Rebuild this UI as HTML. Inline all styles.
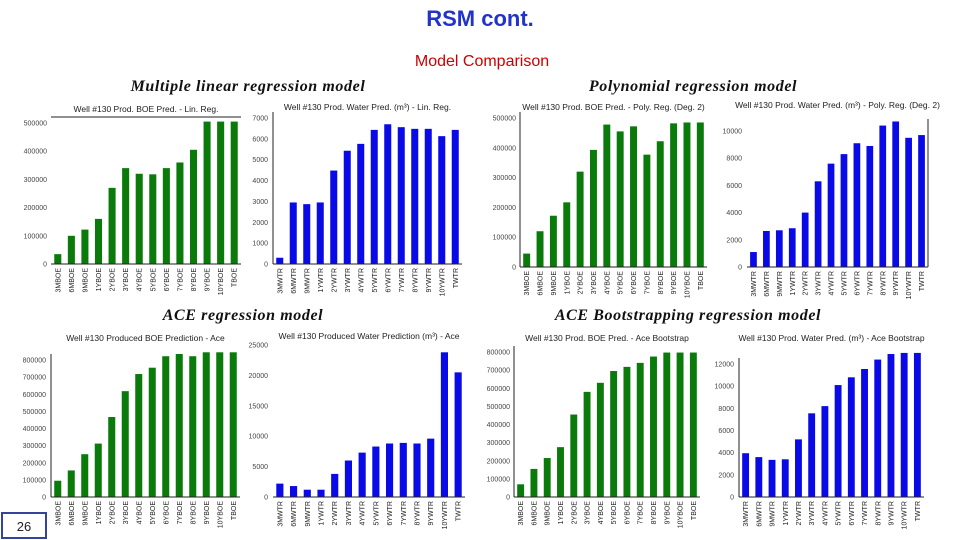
<!DOCTYPE html>
<html><head><meta charset="utf-8"><style>
body{margin:0;background:#fff;}
#root{position:relative;width:960px;height:540px;overflow:hidden;font-family:"Liberation Sans",sans-serif;}
</style></head><body>
<div id="root">
<svg width="960" height="540" id="svg">
<text x="480" y="26" text-anchor="middle" font-size="22" font-weight="bold" fill="#2233cc" font-family="Liberation Sans, sans-serif">RSM cont.</text>
<text x="482" y="66" text-anchor="middle" font-size="16" fill="#cc0000" font-family="Liberation Sans, sans-serif">Model Comparison</text>
<g font-family="Liberation Serif, serif" font-weight="bold" font-style="italic" font-size="16" letter-spacing="0.6" fill="#111" text-anchor="middle">
<text x="248" y="91">Multiple linear regression model</text>
<text x="693" y="91">Polynomial regression model</text>
<text x="243" y="320">ACE regression model</text>
<text x="688" y="320">ACE Bootstrapping regression model</text>
</g>
<rect x="2" y="513" width="44" height="25" fill="#fff" stroke="#33449a" stroke-width="2"/>
<text x="24" y="531" text-anchor="middle" font-size="13" fill="#222">26</text>
</svg>
</div>
<script>
const boeCats=["3MBOE","6MBOE","9MBOE","1YBOE","2YBOE","3YBOE","4YBOE","5YBOE","6YBOE","7YBOE","8YBOE","9YBOE","10YBOE","TBOE"];
const wtrCats=["3MWTR","6MWTR","9MWTR","1YWTR","2YWTR","3YWTR","4YWTR","5YWTR","6YWTR","7YWTR","8YWTR","9YWTR","10YWTR","TWTR"];
const linBoeVals=[35000,100000,122000,160000,270000,340000,320000,318000,340000,360000,405000,505000,505000,505000];
const linWtrVals=[300,2950,2870,2950,4480,5430,5760,6430,6700,6560,6480,6480,6130,6430];
const polyBoeVals=[45000,120000,172000,217000,320000,393000,478000,455000,472000,377000,422000,482000,485000,485000];
const polyWtrVals=[1100,2650,2700,2850,4000,6300,7600,8300,9100,8900,10400,10700,9500,9700];
const aceBoeVals=[95000,155000,250000,312000,467000,618000,718000,755000,822000,835000,822000,845000,845000,845000];
const aceWtrVals=[2200,1800,1200,1200,3800,6000,7300,8300,8800,8900,8800,9600,23800,20500];
const bootBoeVals=[70000,155000,215000,275000,455000,580000,630000,695000,718000,740000,775000,797000,797000,797000];
const bootWtrVals=[3950,3600,3350,3400,5200,7550,8200,10100,10800,11550,12400,12900,13000,13000];
const ticks500k=[0,100000,200000,300000,400000,500000];
const ticks7k=[0,1000,2000,3000,4000,5000,6000,7000];
const ticks10k=[0,2000,4000,6000,8000,10000];
const ticks800k=[0,100000,200000,300000,400000,500000,600000,700000,800000];
const ticks25k=[0,5000,10000,15000,20000,25000];
const ticks12k=[0,2000,4000,6000,8000,10000,12000];

const NS="http://www.w3.org/2000/svg";
const svg=document.getElementById('svg');
function mk(tag,attrs,parent){const e=document.createElementNS(NS,tag);for(const k in attrs)e.setAttribute(k,attrs[k]);(parent||svg).appendChild(e);return e;}

function chart(cfg,cats,vals,ticks){
  const g=mk('g',{});
  
  
  const yScale=v=>cfg.y0-(v-0)*(cfg.y0-cfg.yTop)/cfg.topVal;
  const n=cats.length, step=(cfg.x1-cfg.x0)/n, bw=step*0.52;
  const xScale=i=>cfg.x0+step*(i+0.5);
  const t=mk('text',{x:(cfg.x0+cfg.x1)/2,y:cfg.titleY,'text-anchor':'middle','font-size':8.5,fill:'#222'},g);
  t.textContent=cfg.title;
  
  
  ticks.forEach(v=>{
    const tt=mk('text',{x:cfg.x0-cfg.tickGap,y:yScale(v)+2.5,'text-anchor':'end','font-size':7,fill:'#444'},g);
    tt.textContent=String(v);
    
    
  });
  vals.forEach((v,i)=>{
    const r=mk('rect',{x:xScale(i)-bw/2,y:yScale(v),width:bw,height:cfg.y0-yScale(v),fill:cfg.color},g);
    
    
    const lx=xScale(i)+2.5, ly=cfg.y0+4;
    const l=mk('text',{x:lx,y:ly,'text-anchor':'end','font-size':7,fill:'#222',transform:`rotate(-90 ${lx} ${ly})`},g);
    l.textContent=cats[i];
    
    
  });
  const ax=mk('line',{x1:cfg.x0,x2:cfg.x1,y1:cfg.y0,y2:cfg.y0,stroke:'#222','stroke-width':1},g);
  
  
  if(cfg.left){const s=mk('line',{x1:cfg.x0,x2:cfg.x0,y1:cfg.y0,y2:cfg.yTop-6,stroke:'#222','stroke-width':1},g);
    
    }
  if(cfg.right){const s=mk('line',{x1:cfg.x1,x2:cfg.x1,y1:cfg.y0,y2:cfg.yTop-12,stroke:'#222','stroke-width':1},g);
    
    }
  if(cfg.top){const s=mk('line',{x1:cfg.x0,x2:cfg.x1,y1:cfg.top,y2:cfg.top,stroke:'#222','stroke-width':1},g);
    
    }
}
const G='#0a7a0a',B='#0a0ae6';
chart({name:'chart-linear-boe',title:'Well #130 Prod. BOE Pred. - Lin. Reg.',titleY:112,x0:51,x1:241,y0:264,yTop:123,topVal:500000,color:G,tickGap:4,top:117},boeCats,linBoeVals,ticks500k);
chart({name:'chart-linear-water',title:'Well #130 Prod. Water Pred. (m³) - Lin. Reg.',titleY:110,x0:273,x1:462,y0:264,yTop:118,topVal:7000,color:B,tickGap:5,left:true},wtrCats,linWtrVals,ticks7k);
chart({name:'chart-poly-boe',title:'Well #130 Prod. BOE Pred. - Poly. Reg. (Deg. 2)',titleY:110,x0:520,x1:707,y0:267,yTop:118,topVal:500000,color:G,tickGap:4,left:true},boeCats,polyBoeVals,ticks500k);
chart({name:'chart-poly-water',title:'Well #130 Prod. Water Pred. (m³) - Poly. Reg. (Deg. 2)',titleY:108,x0:747,x1:928,y0:267,yTop:131,topVal:10000,color:B,tickGap:5,right:true},wtrCats,polyWtrVals,ticks10k);
chart({name:'chart-ace-boe',title:'Well #130 Produced BOE Prediction - Ace',titleY:341,x0:51,x1:240,y0:497,yTop:360,topVal:800000,color:G,tickGap:5,left:true},boeCats,aceBoeVals,ticks800k);
chart({name:'chart-ace-water',title:'Well #130 Produced Water Prediction (m³) - Ace',titleY:339,x0:273,x1:465,y0:497,yTop:345,topVal:25000,color:B,tickGap:5},wtrCats,aceWtrVals,ticks25k);
chart({name:'chart-bootstrap-boe',title:'Well #130 Prod. BOE Pred. - Ace Bootstrap',titleY:341,x0:514,x1:700,y0:497,yTop:352,topVal:800000,color:G,tickGap:4,left:true},boeCats,bootBoeVals,ticks800k);
chart({name:'chart-bootstrap-water',title:'Well #130 Prod. Water Pred. (m³) - Ace Bootstrap',titleY:341,x0:739,x1:924,y0:497,yTop:364,topVal:12000,color:B,tickGap:5,left:true},wtrCats,bootWtrVals,ticks12k);
</script>
</body></html>
